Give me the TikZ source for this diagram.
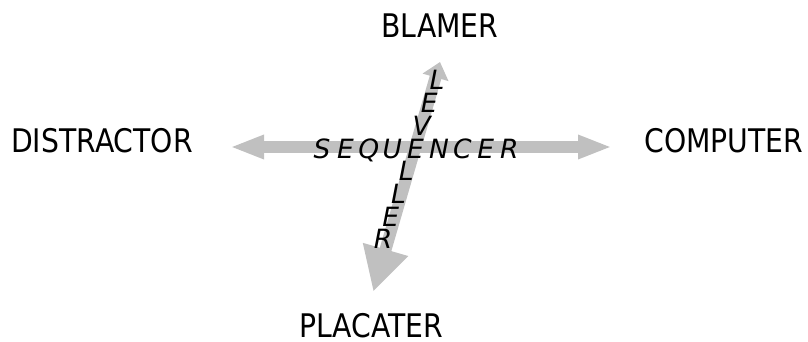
\documentclass[tikz,border=0pt]{standalone}
\usepackage{fontspec}
\setmainfont{DejaVu Sans}[FakeStretch=0.87]
\newfontfamily\letfont{DejaVu Sans}
\usetikzlibrary{arrows.meta}
\definecolor{arrowgray}{RGB}{192,192,192}
\begin{document}
\begin{tikzpicture}[x=1pt,y=-1pt,
  lbl/.style={font=\fontsize{32.5}{36}\selectfont, inner sep=0pt, anchor=base},
  letter/.style={font=\letfont\itshape\fontsize{26.5}{30}\selectfont, inner sep=0pt, anchor=base},
  garrow/.style={draw=arrowgray, line width=12pt}]
\useasboundingbox (0,0) rectangle (808,342);
% arrow end points
\coordinate (hl) at (230,147);
\coordinate (hr) at (612,147);
\coordinate (vt) at (440,62);
\coordinate (vb) at (373.3,291.7);
\draw[garrow, {Triangle[length=34pt,width=22pt]}-{Triangle[length=34pt,width=22pt]}] (hl) -- (hr);
\draw[garrow, {Triangle[length=16pt,width=26pt]}-{Triangle[length=44pt,width=44pt]}] (vt) -- (vb);
% labels
\node[lbl] (distractor) at (102,153) {DISTRACTOR};
\node[lbl] (computer) at (724,153) {COMPUTER};
\node[lbl] (blamer) at (440,38) {BLAMER};
\node[lbl] (placater) at (371,337.5) {PLACATER};
% SEQUENCER
\foreach \ch [count=\i from 0] in {S,E,Q,U,E,N,C,E,R}
  \node[letter] (seq\i) at ({322+23.4*\i},158) {\ch};
% LEVELLER (4th letter shared with SEQUENCER)
\foreach \ch/\i in {L/0,E/1,V/2,L/4,L/5,E/6,R/7}
  \node[letter] (lev\i) at ({437-7.7*\i},{90+22.67*\i}) {\ch};
\end{tikzpicture}
\end{document}
